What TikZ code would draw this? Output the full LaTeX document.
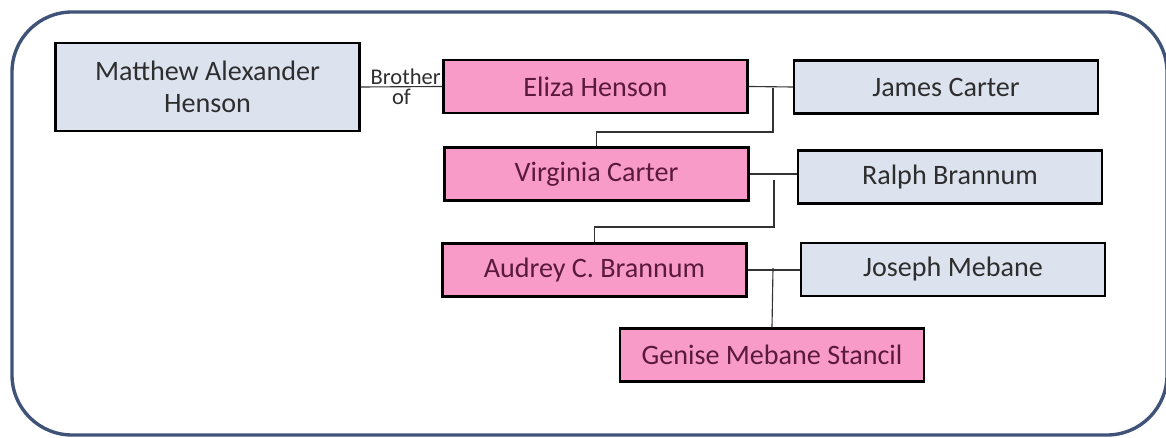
\documentclass[tikz,border=0pt]{standalone}
\usepackage{fontspec}
\setmainfont{Carlito}
\usetikzlibrary{calc}
\definecolor{frameblue}{HTML}{3F5378}
\definecolor{boxblue}{HTML}{DCE3EF}
\definecolor{boxpink}{HTML}{F99BC8}
\definecolor{textpink}{HTML}{5A1A3C}
\definecolor{textgray}{HTML}{2E2E2E}

\begin{document}
\begin{tikzpicture}[x=0.025cm,y=-0.025cm]
        %
        % `person' is the common box, `male' and `female' set the fill.
        % `frame' is used for the rounded border round everything.
        \tikzstyle{person} = [draw=black,line width=1.6pt,minimum width=7.6cm,minimum height=1.33cm,inner sep=2pt,font=\fontsize{20}{23}\selectfont]
        \tikzstyle{male} = [person,fill=boxblue,text=textgray]
        \tikzstyle{female} = [person,fill=boxpink,text=textpink]
        \tikzstyle{link} = [line width=0.8pt,draw=black!80]
        \tikzstyle{frame} = [draw=frameblue,line width=2.4pt,rounded corners=1.5cm]
        %
        \useasboundingbox (0,0) rectangle (1166,438);
        % Border
        \draw[frame] (12,12) rectangle (1167,435);
        %
        % Column 1
        \node[male,minimum height=2.2cm,align=center] (matthew) at (207.5,87) {Matthew Alexander\\Henson};
        %
        % Column 2
        \node[female] (eliza) at (595.5,86.5) {Eliza Henson};
        \node[female] (virginia) at (596.5,174) {Virginia Carter};
        \node[female] (audrey) at (594.5,270) {Audrey C. Brannum};
        \node[female] (genise) at (772,355) {Genise Mebane Stancil};
        %
        % Column 3
        \node[male] (james) at (946,87) {James Carter};
        \node[male] (ralph) at (950,177) {Ralph Brannum};
        \node[male] (joseph) at (953,269.5) {Joseph Mebane};
        %
        % Sibling link
        \draw[link] (matthew.east) -- node[above=-2pt,xshift=3pt,font=\fontsize{16}{18}\selectfont,text=textgray] (brother) {Brother}
            node[below=-2pt,font=\fontsize{16}{18}\selectfont,text=textgray] (of) {of} (eliza.west);
        %
        % Couples
        \draw[link] (eliza.east) -- (james.west);
        \draw[link] (virginia.east) -- (virginia.east -| ralph.west);
        \draw[link] (audrey.east) -- (audrey.east -| joseph.west);
        %
        % Children
        \coordinate (c1) at (773,88);
        \coordinate (c2) at (774,180);
        \coordinate (c3) at (773,268);
        \draw[link] (c1) -- ++(0,44) -| (virginia.north);
        \draw[link] (c2) -- ++(0,47) -| (audrey.north);
        \draw[link] (c3) -- (genise.north);
        %
\end{tikzpicture}
\end{document}
